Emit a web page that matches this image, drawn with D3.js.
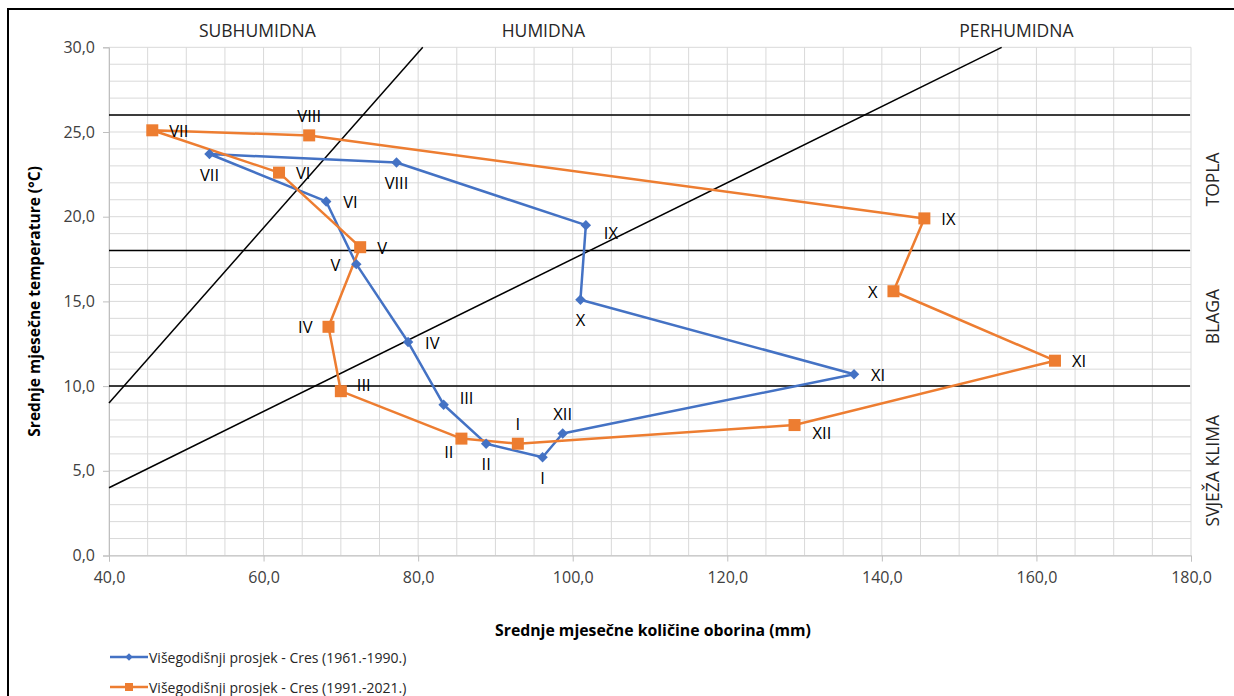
<!DOCTYPE html>
<html><head><meta charset="utf-8">
<script src="https://cdn.jsdelivr.net/npm/d3@7"></script>
<style>
html,body{margin:0;padding:0;background:#fff;}
text{font-family:"Open Sans","DejaVu Sans",sans-serif;fill:#262626;}
</style></head>
<body><svg id="c" width="1234" height="696"></svg>
<script>
// ---- data ----
const months = ["I","II","III","IV","V","VI","VII","VIII","IX","X","XI","XII"];
const precip1961 = [96.1, 88.8, 83.3, 78.7, 72.0, 68.1, 53.0, 77.2, 101.7, 101.0, 136.4, 98.7];
const temp1961   = [5.8, 6.6, 8.9, 12.6, 17.2, 20.9, 23.7, 23.2, 19.5, 15.1, 10.7, 7.2];
const precip1991 = [92.9, 85.6, 70.0, 68.4, 72.5, 62.0, 45.6, 65.9, 145.5, 141.5, 162.4, 128.7];
const temp1991   = [6.6, 6.9, 9.7, 13.5, 18.2, 22.6, 25.1, 24.8, 19.9, 15.6, 11.5, 7.7];
const seriesNames = ["Višegodišnji prosjek - Cres (1961.-1990.)", "Višegodišnji prosjek - Cres (1991.-2021.)"];
const xTicks = [40, 60, 80, 100, 120, 140, 160, 180];
const yTicks = [0, 5, 10, 15, 20, 25, 30];
const tempBoundaries = [10, 18, 26];
const humidLine1 = [[40, 9], [80.6, 30]];
const humidLine2 = [[40, 4], [155.5, 30]];
const humidityZones = ["SUBHUMIDNA", "HUMIDNA", "PERHUMIDNA"];
const thermalZones = ["TOPLA", "BLAGA", "SVJEŽA KLIMA"];

// ---- layout ----
const svg = d3.select("#c");
svg.append("rect").attr("width",1234).attr("height",696).attr("fill","#fff");
svg.append("rect").attr("x",8).attr("y",9).attr("width",1240).attr("height",700)
  .attr("fill","none").attr("stroke","#000").attr("stroke-width",2);

const x = d3.scaleLinear().domain([40,180]).range([109,1191]);
const y = d3.scaleLinear().domain([0,30]).range([555.5,47.3]);
const fmt = d => d3.format(".1f")(d).replace(".", ",");

// grid
const g = svg.append("g");
g.selectAll("line.v").data(d3.range(40,181,5)).join("line")
  .attr("x1",d=>x(d)).attr("x2",d=>x(d)).attr("y1",y(0)).attr("y2",y(30))
  .attr("stroke","#d9d9d9").attr("stroke-width",1);
g.selectAll("line.h").data(d3.range(0,31,1)).join("line")
  .attr("x1",x(40)).attr("x2",x(180)).attr("y1",d=>y(d)).attr("y2",d=>y(d))
  .attr("stroke","#d9d9d9").attr("stroke-width",1);

// axes
const xa = svg.append("g").attr("transform",`translate(0,${y(0)})`)
  .call(d3.axisBottom(x).tickValues(xTicks).tickFormat(fmt).tickSize(6).tickPadding(10));
const ya = svg.append("g").attr("transform",`translate(${x(40)},0)`)
  .call(d3.axisLeft(y).tickValues(yTicks).tickFormat(fmt).tickSize(6).tickPadding(8));
[xa,ya].forEach(a=>{
  a.select(".domain").attr("stroke","#bfbfbf");
  a.selectAll(".tick line").attr("stroke","#bfbfbf");
  a.selectAll(".tick text").attr("font-size",16).style("fill","#404040")
   .attr("font-family","Open Sans, sans-serif");
});

// boundary lines
tempBoundaries.forEach(t=>{
  svg.append("line").attr("x1",x(40)).attr("x2",x(180)-1).attr("y1",y(t)).attr("y2",y(t))
    .attr("stroke","#000").attr("stroke-width",1.5);
});
const bl = d3.line().x(d=>x(d[0])).y(d=>y(d[1]));
[humidLine1, humidLine2].forEach(l=>{
  svg.append("path").attr("d",bl(l)).attr("fill","none").attr("stroke","#000").attr("stroke-width",1.5);
});

// series
const colors = ["#4472c4","#ed7d31"];
const s1 = months.map((m,i)=>({m, p:precip1961[i], t:temp1961[i]}));
const s2 = months.map((m,i)=>({m, p:precip1991[i], t:temp1991[i]}));
const line = d3.line().x(d=>x(d.p)).y(d=>y(d.t));
[s1,s2].forEach((s,k)=>{
  svg.append("path").attr("d",line(s.concat([s[0]]))).attr("fill","none")
    .attr("stroke",colors[k]).attr("stroke-width",2.5).attr("stroke-linejoin","round");
});
// markers
svg.append("g").selectAll("path").data(s1).join("path")
  .attr("d",d3.symbol(d3.symbolDiamond2,70)())
  .attr("transform",d=>`translate(${x(d.p)},${y(d.t)})`)
  .attr("fill",colors[0]);
svg.append("g").selectAll("rect").data(s2).join("rect")
  .attr("x",d=>x(d.p)-6).attr("y",d=>y(d.t)-6).attr("width",12).attr("height",12)
  .attr("fill",colors[1]);

// data labels placement (style)
const place1 = ["b","b","ar","r","l","r","b","b","br","b","r","a"];
const place2 = ["a","bl","ar","l","r","r","r","a","r","l","r","br"];
const off = {b:[0,20],a:[0,-20],r:[17,0],l:[-16,0],ar:[16,-7],br:[18,7],bl:[-8,13]};
const anchor = {b:"middle",a:"middle",r:"start",l:"end",ar:"start",br:"start",bl:"end"};
function labels(s,pl){
  svg.append("g").selectAll("text").data(s).join("text")
    .attr("x",(d,i)=>x(d.p)+off[pl[i]][0]).attr("y",(d,i)=>y(d.t)+off[pl[i]][1])
    .attr("text-anchor",(d,i)=>anchor[pl[i]]).attr("dominant-baseline","central")
    .attr("font-size",16.5).style("fill","#000").text(d=>d.m);
}
labels(s1,place1); labels(s2,place2);

// zone labels
const hz = [59.2, 96.2, 157.4];
humidityZones.forEach((z,i)=>svg.append("text").attr("x",x(hz[i])).attr("y",30)
  .attr("text-anchor","middle").attr("dominant-baseline","central").attr("font-size",17.5).text(z));
const tz = [22.2, 14.1, 5.0];
thermalZones.forEach((z,i)=>svg.append("text")
  .attr("transform",`translate(1212,${y(tz[i])}) rotate(-90)`)
  .attr("text-anchor","middle").attr("dominant-baseline","central").attr("font-size",17.5).text(z));

// axis titles
svg.append("text").attr("transform",`translate(34,${(y(0)+y(30))/2}) rotate(-90)`)
  .attr("text-anchor","middle").attr("dominant-baseline","central")
  .attr("font-size",15.5).attr("font-weight","bold").style("fill","#000")
  .text("Srednje mjesečne temperature (°C)");
svg.append("text").attr("x",653).attr("y",630).attr("text-anchor","middle")
  .attr("dominant-baseline","central").attr("font-size",15.8).attr("font-weight","bold").style("fill","#000")
  .text("Srednje mjesečne količine oborina (mm)");

// legend
seriesNames.forEach((n,k)=>{
  const ly = 657 + k*30;
  svg.append("line").attr("x1",110).attr("x2",148).attr("y1",ly).attr("y2",ly)
    .attr("stroke",colors[k]).attr("stroke-width",2.5);
  if(k===0) svg.append("path").attr("d",d3.symbol(d3.symbolDiamond2,36)())
    .attr("transform",`translate(129,${ly})`).attr("fill",colors[0]);
  else svg.append("rect").attr("x",125).attr("y",ly-4).attr("width",8).attr("height",8).attr("fill",colors[1]);
  svg.append("text").attr("x",149).attr("y",ly).attr("dominant-baseline","central")
    .attr("font-size",14).text(n);
});
</script></body></html>
